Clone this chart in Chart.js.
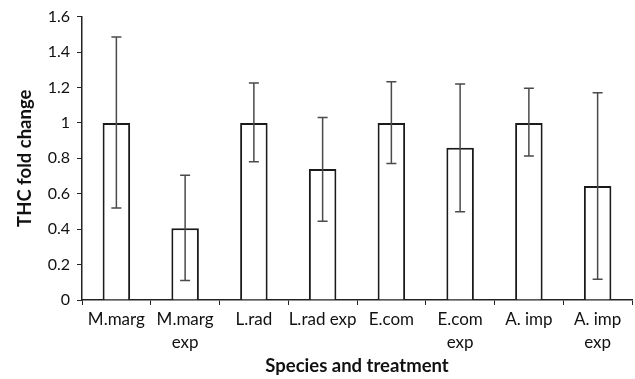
<!DOCTYPE html>
<html>
<head>
<meta charset="utf-8">
<script src="https://cdn.jsdelivr.net/npm/chart.js@4"></script>
<style>
  html, body { margin: 0; padding: 0; background: #fff; }
  #wrap { width: 635px; height: 379px; }
</style>
</head>
<body>
<div id="wrap"><canvas id="thcChart"></canvas></div>
<script>
const categories = [
	'M.marg', ['M.marg', 'exp'], 'L.rad', 'L.rad exp',
	'E.com', ['E.com', 'exp'], 'A. imp', ['A. imp', 'exp']
];
const foldChange = [1.0, 0.405, 1.0, 0.74, 1.0, 0.86, 1.0, 0.643];
const errUpper = [1.485, 0.705, 1.225, 1.03, 1.232, 1.219, 1.195, 1.17];
const errLower = [0.52, 0.11, 0.78, 0.445, 0.771, 0.498, 0.813, 0.117];

const FONT = 'Lato, "Open Sans", sans-serif';

// draws the whiskers through the scales
const errorBars = {
	id: 'errorBars',
	afterDatasetsDraw(chart) {
		const ctx = chart.ctx;
		const y = chart.scales.y;
		const meta = chart.getDatasetMeta(0);
		ctx.save();
		ctx.strokeStyle = '#4a4a4a';
		ctx.lineWidth = 1.5;
		meta.data.forEach((bar, i) => {
			const x = bar.x;
			const top = y.getPixelForValue(errUpper[i]);
			const bot = y.getPixelForValue(errLower[i]);
			ctx.beginPath();
			ctx.moveTo(x, top); ctx.lineTo(x, bot);
			ctx.moveTo(x - 5, top); ctx.lineTo(x + 5, top);
			ctx.moveTo(x - 5, bot); ctx.lineTo(x + 5, bot);
			ctx.stroke();
		});
		ctx.restore();
	}
};

new Chart(
	document.getElementById('thcChart'),
	{
		type: 'bar',
		data: {
			labels: categories,
			datasets: [
				{
					label: 'THC fold change',
					data: foldChange,
					backgroundColor: '#ffffff',
					borderColor: '#1a1a1a',
					borderWidth: 2,
					barPercentage: 0.4,
					categoryPercentage: 1.0
				}
			]
		},
		options: {
			responsive: true,
			maintainAspectRatio: false,
			animation: false,
			layout: {
				padding: { left: 0, right: 3, top: 8, bottom: 0 }
			},
			plugins: {
				legend: { display: false },
				tooltip: { enabled: false }
			},
			scales: {
				x: {
					afterFit: s => { s.height = 79; },
					grid: {
						offset: true,
						drawOnChartArea: false,
						drawTicks: true,
						tickLength: 5,
						color: '#222'
					},
					border: { color: '#222', width: 1.5 },
					ticks: {
						color: '#111',
						font: { family: FONT, size: 17, lineHeight: 1.35 },
						padding: 3,
						maxRotation: 0,
						autoSkip: false
					},
					title: {
						display: true,
						text: 'Species and treatment',
						color: '#111',
						font: { family: FONT, size: 18.5, weight: 'bold' },
						padding: { top: 4, bottom: 2 }
					}
				},
				y: {
					min: 0,
					max: 1.6,
					afterFit: s => { s.width = 82; },
					grid: {
						drawOnChartArea: false,
						drawTicks: true,
						tickLength: 5,
						color: '#222'
					},
					border: { color: '#222', width: 1.5 },
					ticks: {
						stepSize: 0.2,
						color: '#111',
						font: { family: FONT, size: 16 },
						padding: 7,
						callback: v => Math.round(v * 10) / 10
					},
					title: {
						display: true,
						text: 'THC fold change',
						color: '#111',
						font: { family: FONT, size: 18.5, weight: 'bold' },
						padding: { top: 14, bottom: 0 }
					}
				}
			}
		},
		plugins: [errorBars]
	}
);
</script>
</body>
</html>
